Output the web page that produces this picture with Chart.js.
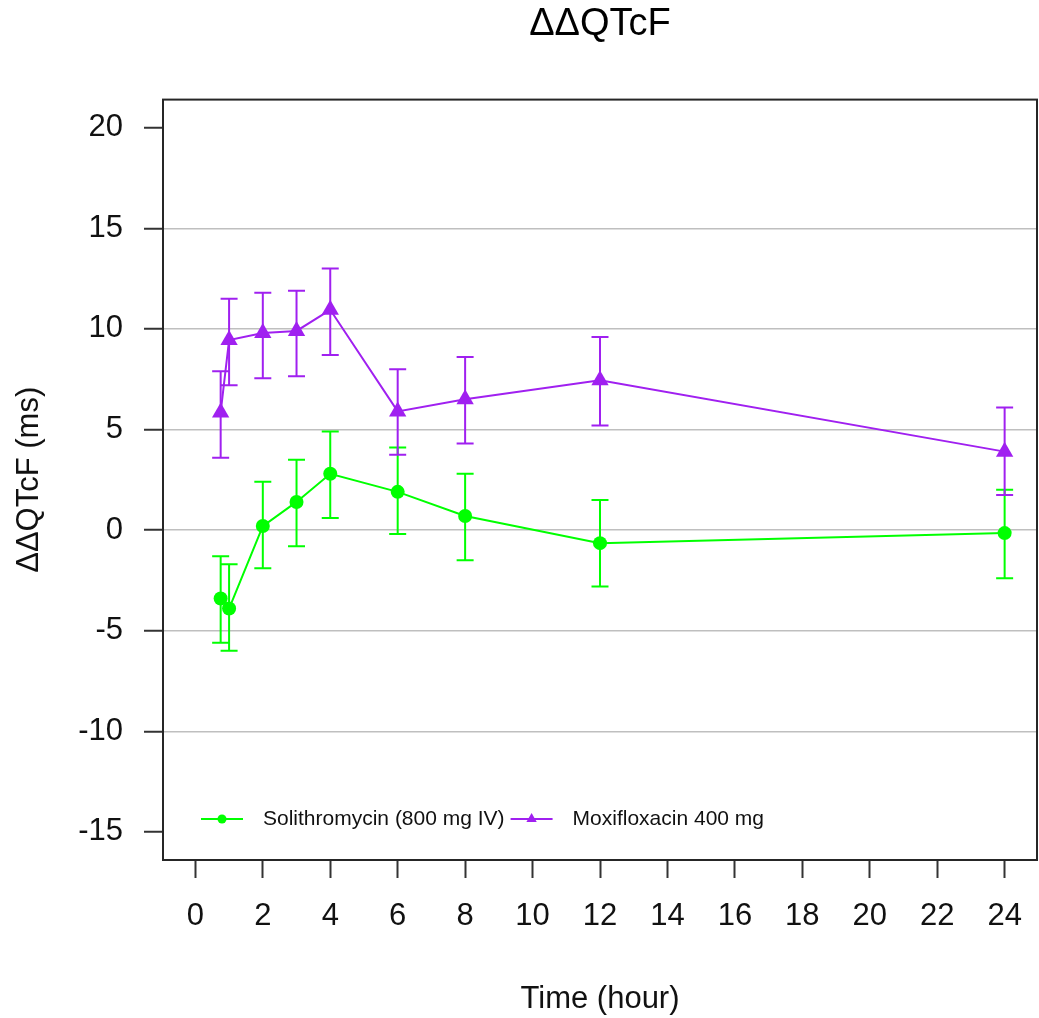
<!DOCTYPE html>
<html>
<head>
<meta charset="utf-8">
<title>ΔΔQTcF</title>
<script src="https://cdn.jsdelivr.net/npm/chart.js@4.4.1/dist/chart.umd.min.js"></script>
<style>
  html, body { margin: 0; padding: 0; background: #fff; }
  #wrap { width: 1039px; height: 1018px; }
</style>
</head>
<body>
<div id="wrap"><canvas id="qtcChart" width="1039" height="1018"></canvas></div>
<script>
// data
const times = [0.75, 1, 2, 3, 4, 6, 8, 12, 24];

const soliMean = [-3.4, -3.9, 0.2, 1.4, 2.8, 1.9, 0.7, -0.65, -0.15];
const soliLow  = [-5.6, -6.0, -1.9, -0.8, 0.6, -0.2, -1.5, -2.8, -2.4];
const soliHigh = [-1.3, -1.7, 2.4, 3.5, 4.9, 4.1, 2.8, 1.5, 2.0];

const moxiMean = [5.85, 9.45, 9.8, 9.9, 10.95, 5.9, 6.5, 7.45, 3.9];
const moxiLow  = [3.6, 7.2, 7.55, 7.65, 8.7, 3.75, 4.3, 5.2, 1.75];
const moxiHigh = [7.9, 11.5, 11.8, 11.9, 13.0, 8.0, 8.6, 9.6, 6.1];

const xTicks = [0, 2, 4, 6, 8, 10, 12, 14, 16, 18, 20, 22, 24];
const yTicks = [-15, -10, -5, 0, 5, 10, 15, 20];
const gridTicks = [-10, -5, 0, 5, 10, 15];

const GREEN = '#00ff00';
const PURPLE = '#a020f0';
const FONT = "'Liberation Sans', Arial, sans-serif";

function toPoints(ys) {
    return times.map((t, i) => ({ x: t, y: ys[i] }));
}

// error bars drawn with the chart's own scales
const errorBars = {
    id: 'errorBars',
    beforeDatasetsDraw(chart) {
        const ctx = chart.ctx;
        const xs = chart.scales.x;
        const ys = chart.scales.y;
        chart.data.datasets.forEach(ds => {
            ctx.save();
            ctx.strokeStyle = ds.borderColor;
            ctx.lineWidth = 2;
            ds.low.forEach((lo, i) => {
                const px = xs.getPixelForValue(ds.data[i].x);
                const pLo = ys.getPixelForValue(lo);
                const pHi = ys.getPixelForValue(ds.high[i]);
                ctx.beginPath();
                ctx.moveTo(px, pLo); ctx.lineTo(px, pHi);
                ctx.moveTo(px - 8.5, pLo); ctx.lineTo(px + 8.5, pLo);
                ctx.moveTo(px - 8.5, pHi); ctx.lineTo(px + 8.5, pHi);
                ctx.stroke();
            });
            ctx.restore();
        });
    }
};

// box round the plot and the legend inside it
const boxAndLegend = {
    id: 'boxAndLegend',
    afterDraw(chart) {
        const ctx = chart.ctx;
        const a = chart.chartArea;
        ctx.save();
        ctx.strokeStyle = '#262626';
        ctx.lineWidth = 2;
        ctx.strokeRect(a.left, a.top, a.right - a.left, a.bottom - a.top);

        let x = a.left + 38;
        const y = a.bottom - 41;
        ctx.font = '21px ' + FONT;
        ctx.textBaseline = 'middle';
        chart.data.datasets.forEach(ds => {
            ctx.strokeStyle = ds.borderColor;
            ctx.fillStyle = ds.borderColor;
            ctx.lineWidth = 2;
            ctx.beginPath();
            ctx.moveTo(x, y); ctx.lineTo(x + 42, y);
            ctx.stroke();
            Chart.helpers.drawPoint(ctx, { pointStyle: ds.pointStyle, radius: ds.pointStyle === 'triangle' ? 6 : 4.5, borderWidth: 0 }, x + 21, y);
            ctx.fillStyle = '#111';
            ctx.fillText(ds.label, x + 62, y);
            x += 62 + ctx.measureText(ds.label).width + 6;
        });
        ctx.restore();
    }
};

const qtcChart = new Chart(document.getElementById('qtcChart'), {
    type: 'line',
    data: {
        datasets: [
            {
                label: 'Solithromycin (800 mg IV)',
                data: toPoints(soliMean),
                low: soliLow,
                high: soliHigh,
                borderColor: GREEN,
                backgroundColor: GREEN,
                borderWidth: 2,
                pointStyle: 'circle',
                pointRadius: 7,
                pointBorderWidth: 0,
                tension: 0
            },
            {
                label: 'Moxifloxacin 400 mg',
                data: toPoints(moxiMean),
                low: moxiLow,
                high: moxiHigh,
                borderColor: PURPLE,
                backgroundColor: PURPLE,
                borderWidth: 2,
                pointStyle: 'triangle',
                pointRadius: 10,
                pointBorderWidth: 0,
                tension: 0
            }
        ]
    },
    options: {
        responsive: false,
        animation: false,
        layout: { autoPadding: false, padding: { left: 0, right: 2, top: 0, bottom: 0 } },
        plugins: {
            legend: { display: false },
            tooltip: { enabled: false },
            title: {
                display: true,
                fullSize: false,
                text: 'ΔΔQTcF',
                color: '#000',
                font: { family: FONT, size: 38, weight: 'normal' },
                padding: { top: 2, bottom: 52 }
            }
        },
        scales: {
            x: {
                type: 'linear',
                min: -0.96,
                max: 24.96,
                afterBuildTicks: s => { s.ticks = xTicks.map(v => ({ value: v })); },
                afterFit: s => { s.height = 158; s.paddingLeft = 0; s.paddingRight = 0; },
                grid: { drawOnChartArea: false, tickLength: 18, tickColor: '#333', tickWidth: 2 },
                border: { display: false },
                ticks: { color: '#111', font: { family: FONT, size: 31 }, padding: 20, maxRotation: 0, autoSkip: false },
                title: {
                    display: true,
                    text: 'Time (hour)',
                    color: '#111',
                    font: { family: FONT, size: 31 },
                    padding: { top: 3, bottom: 0 }
                }
            },
            y: {
                min: -16.4,
                max: 21.4,
                afterBuildTicks: s => { s.ticks = yTicks.map(v => ({ value: v })); },
                afterFit: s => { s.width = 163; s.paddingTop = 0; s.paddingBottom = 0; },
                grid: {
                    color: c => (c.tick && gridTicks.includes(c.tick.value)) ? '#bfbfbf' : 'rgba(0,0,0,0)',
                    lineWidth: 1.5,
                    tickLength: 19,
                    tickColor: '#333',
                    tickWidth: 2
                },
                border: { display: false },
                ticks: { color: '#111', font: { family: FONT, size: 31 }, padding: 21, autoSkip: false },
                title: {
                    display: true,
                    text: 'ΔΔQTcF (ms)',
                    color: '#111',
                    font: { family: FONT, size: 31 },
                    padding: { top: 11, bottom: 0 }
                }
            }
        }
    },
    plugins: [errorBars, boxAndLegend]
});
</script>
</body>
</html>
